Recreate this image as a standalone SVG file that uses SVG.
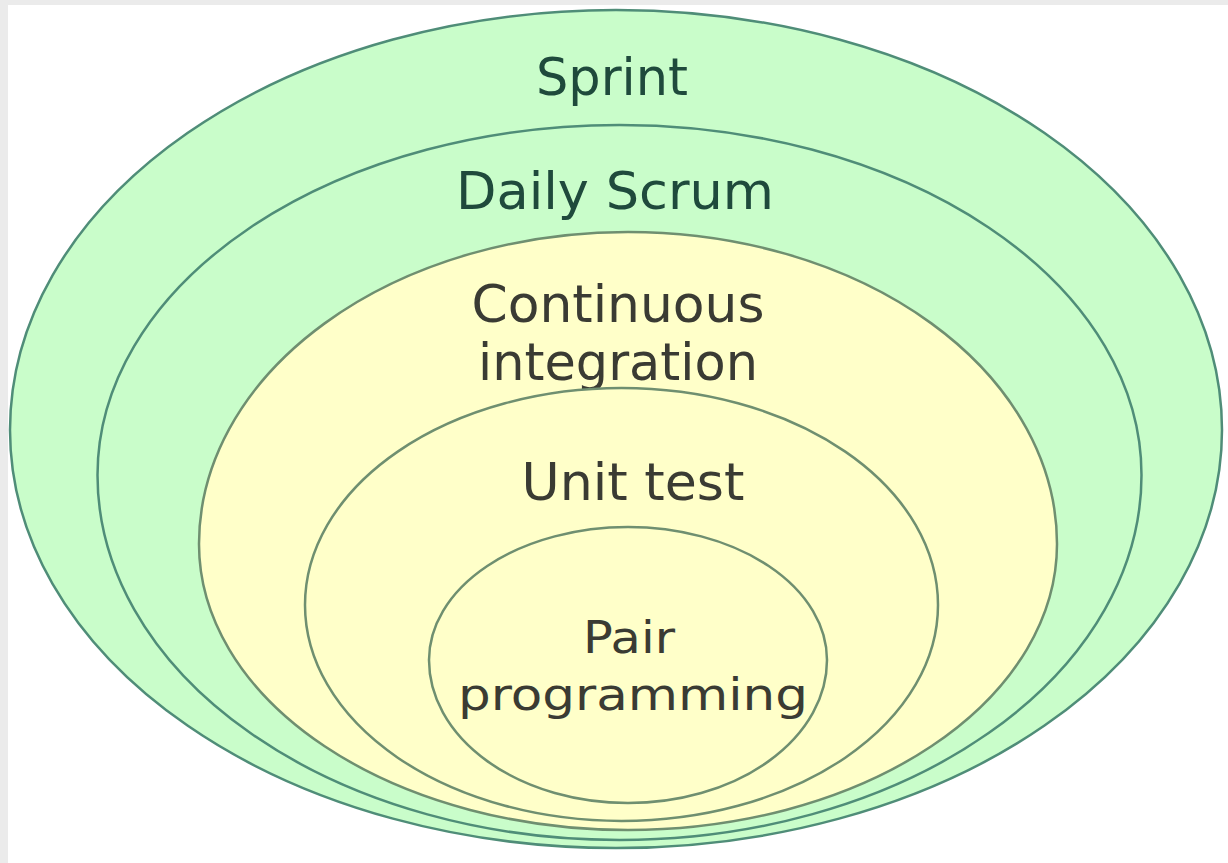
<svg xmlns="http://www.w3.org/2000/svg" width="1228" height="863" viewBox="0 0 1228 863">
<style>
.green{fill:#c9fdca;stroke:#4f8d78;stroke-width:2.5}
.yellow{fill:#ffffc9;stroke:#6f8f70;stroke-width:2.5}
.lbl{font-family:"DejaVu Sans","Liberation Sans",sans-serif;text-anchor:middle}
.dg{fill:#1f4a3c}
.dk{fill:#3a3b33}
</style>
<rect x="0" y="0" width="1228" height="863" fill="#ffffff"/>
<rect x="0" y="0" width="1228" height="5" fill="#ebebeb"/>
<rect x="0" y="0" width="8" height="863" fill="#ebebeb"/>
<g id="sprint">
<path class="green" d="M10,430 A606,420 0 0 1 1222,430 A606,418 0 0 1 10,430 Z"/>
<text class="lbl dg" x="612" y="95" font-size="51" textLength="152" lengthAdjust="spacingAndGlyphs">Sprint</text>
</g>
<g id="daily-scrum">
<path class="green" d="M97.5,475 A522,350 0 0 1 1141.5,475 A522,365 0 0 1 97.5,475 Z"/>
<text class="lbl dg" x="615" y="209" font-size="51" textLength="318" lengthAdjust="spacingAndGlyphs">Daily Scrum</text>
</g>
<g id="continuous-integration">
<path class="yellow" d="M199,544 A429,312 0 0 1 1057,544 A429,286 0 0 1 199,544 Z"/>
<text class="lbl dk" x="618" y="322" font-size="51" textLength="293" lengthAdjust="spacingAndGlyphs">Continuous</text>
<text class="lbl dk" x="618" y="380" font-size="51" textLength="280" lengthAdjust="spacingAndGlyphs">integration</text>
</g>
<g id="unit-test">
<path class="yellow" d="M305,605 A316.5,217 0 0 1 938,605 A316.5,216 0 0 1 305,605 Z"/>
<text class="lbl dk" x="633" y="500" font-size="52" textLength="223" lengthAdjust="spacingAndGlyphs">Unit test</text>
</g>
<g id="pair-programming">
<path class="yellow" d="M429,660 A199,133 0 0 1 827,660 A199,143 0 0 1 429,660 Z"/>
<text class="lbl dk" x="629" y="653" font-size="44" textLength="92" lengthAdjust="spacingAndGlyphs">Pair</text>
<text class="lbl dk" x="633" y="710" font-size="44" textLength="350" lengthAdjust="spacingAndGlyphs">programming</text>
</g>
</svg>
